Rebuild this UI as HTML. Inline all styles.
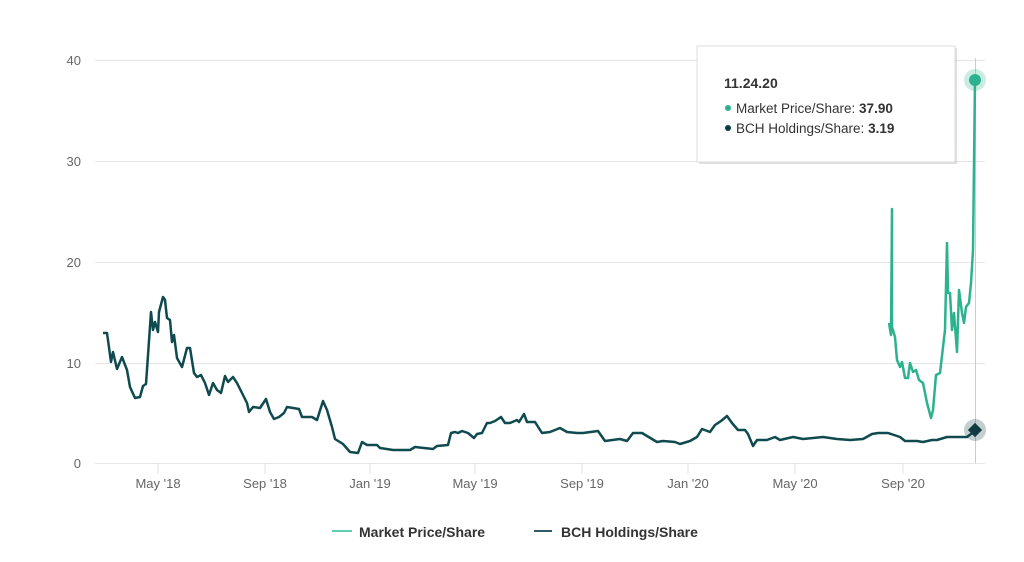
<!DOCTYPE html>
<html><head><meta charset="utf-8"><style>
body{margin:0;background:#fff;font-family:"Liberation Sans",sans-serif}
</style></head><body>
<svg width="1024" height="557" xmlns="http://www.w3.org/2000/svg" font-family="Liberation Sans, sans-serif">
<g stroke="#e6e6e6" stroke-width="1">
<line x1="95" x2="985" y1="60.5" y2="60.5"/><line x1="95" x2="985" y1="161.5" y2="161.5"/>
<line x1="95" x2="985" y1="262.5" y2="262.5"/><line x1="95" x2="985" y1="363.5" y2="363.5"/>
<line x1="95" x2="985" y1="463.5" y2="463.5"/>
</g>
<g stroke="#e0e0e0"><line x1="158" x2="158" y1="463" y2="474"/><line x1="265" x2="265" y1="463" y2="474"/><line x1="370" x2="370" y1="463" y2="474"/><line x1="475" x2="475" y1="463" y2="474"/><line x1="582" x2="582" y1="463" y2="474"/><line x1="688" x2="688" y1="463" y2="474"/><line x1="795" x2="795" y1="463" y2="474"/><line x1="903" x2="903" y1="463" y2="474"/></g>
<g fill="#666" font-size="13" text-anchor="end"><text x="81" y="65">40</text><text x="81" y="166">30</text><text x="81" y="267">20</text><text x="81" y="368">10</text><text x="81" y="468">0</text></g>
<g fill="#666" font-size="13" text-anchor="middle"><text x="158" y="488">May '18</text><text x="265" y="488">Sep '18</text><text x="370" y="488">Jan '19</text><text x="475" y="488">May '19</text><text x="582" y="488">Sep '19</text><text x="688" y="488">Jan '20</text><text x="795" y="488">May '20</text><text x="903" y="488">Sep '20</text></g>
<line x1="975.5" x2="975.5" y1="58" y2="463" stroke="#ccc"/>
<polyline fill="none" stroke="#0f4a4f" stroke-width="2.5" stroke-linejoin="round" points="103,333 107,333 111,362 113,352 117,369 122,357 127,370 130,387 135,398 140,397 143,386 146,384 151,312 153,330 155,322 158,332 159,312 163,297 165,300 167,318 170,320 172,342 174,335 177,358 182,367 187,348 190,348 194,373 197,377 201,375 205,383 209,395 213,383 217,390 221,393 225,376 228,382 233,377 237,383 243,395 247,403 249,412 253,407 260,408 266,399 270,412 274,419 279,417 284,413 287,407 293,408 299,409 302,417 312,417 317,420 323,401 327,410 332,427 335,439 343,444 350,452 358,453 362,442 367,445 377,445 380,448 393,450 410,450 415,447 433,449 437,446 448,445 451,433 455,432 458,433 462,431 468,433 474,438 477,434 482,433 487,423 490,423 495,421 501,417 505,423 510,423 517,420 519,422 524,414 527,422 535,422 542,433 550,432 560,428 567,432 577,433 583,433 598,431 605,441 620,439 627,441 633,433 642,433 647,436 657,442 663,441 675,442 680,444 690,441 697,437 702,429 710,432 715,425 721,421 727,416 732,423 738,430 745,430 748,434 753,446 757,440 767,440 775,437 780,440 793,437 803,439 823,437 837,439 850,440 863,439 872,434 878,433 888,433 900,437 905,441 917,441 923,442 932,440 937,440 947,437 957,437 967,437 975,431"/>
<polyline fill="none" stroke="#2db28f" stroke-width="2.5" stroke-linejoin="round" points="889,323 891,335 892,209 892,327 895,337 897,360 900,367 902,362 905,378 908,378 910,363 913,372 916,370 919,380 923,383 927,403 931,418 933,410 936,375 940,373 945,330 947,243 948,293 950,293 952,330 954,313 957,352 959,290 962,313 964,323 966,307 969,303 971,283 973,250 975,80"/>
<circle cx="975" cy="80" r="11" fill="#2db28f" opacity="0.25"/><circle cx="975" cy="80" r="6" fill="#2db28f"/>
<circle cx="975" cy="430" r="11" fill="#0f3a40" opacity="0.25"/><rect x="970" y="425" width="10" height="10" fill="#0f3a40" transform="rotate(45 975 430)"/>
<rect x="699" y="48" width="258" height="116" fill="#000" opacity="0.12"/>
<rect x="697" y="46" width="258" height="116" fill="#fff" stroke="#ddd"/>
<text x="724" y="88" font-size="14" font-weight="bold" fill="#333">11.24.20</text>
<circle cx="728" cy="108" r="3" fill="#2db28f"/><text x="736" y="113" font-size="13.5" fill="#333">Market Price/Share: <tspan font-weight="bold">37.90</tspan></text>
<circle cx="728" cy="128" r="3" fill="#0f3a40"/><text x="736" y="133" font-size="13.5" fill="#333">BCH Holdings/Share: <tspan font-weight="bold">3.19</tspan></text>
<line x1="332" x2="352" y1="531" y2="531" stroke="#5fd0b5" stroke-width="2"/>
<text x="359" y="537" font-size="14" font-weight="bold" fill="#333">Market Price/Share</text>
<line x1="534" x2="552" y1="531" y2="531" stroke="#2e5a66" stroke-width="2"/>
<text x="561" y="537" font-size="14" font-weight="bold" fill="#333">BCH Holdings/Share</text>
</svg>
</body></html>
